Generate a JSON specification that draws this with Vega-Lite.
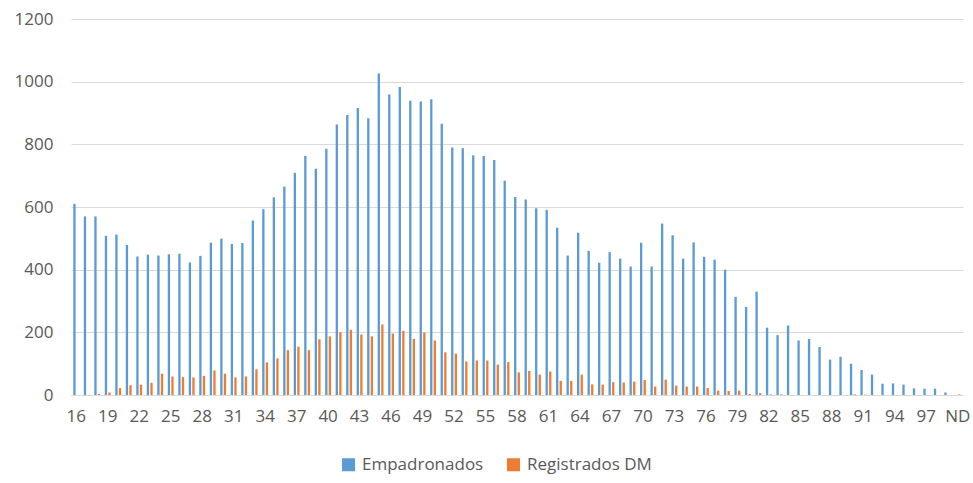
{
  "$schema": "https://vega.github.io/schema/vega-lite/v6.json",
  "width": 892,
  "height": 376,
  "autosize": {"type": "none"},
  "padding": {"left": 71, "top": 19, "right": 10, "bottom": 88},
  "background": "white",
  "config": {
    "view": {"stroke": null},
    "font": "Open Sans",
    "axis": {"labelFont": "Open Sans", "labelColor": "#595959", "labelFontSize": 17, "title": null},
    "legend": {"labelFont": "Open Sans", "labelColor": "#595959", "labelFontSize": 17}
  },
  "data": {
    "values": [
      {"edad": "16", "Empadronados": 610, "Registrados DM": 0},
      {"edad": "17", "Empadronados": 570, "Registrados DM": 0},
      {"edad": "18", "Empadronados": 570, "Registrados DM": 3},
      {"edad": "19", "Empadronados": 508, "Registrados DM": 8},
      {"edad": "20", "Empadronados": 512, "Registrados DM": 22},
      {"edad": "21", "Empadronados": 479, "Registrados DM": 31},
      {"edad": "22", "Empadronados": 442, "Registrados DM": 33},
      {"edad": "23", "Empadronados": 448, "Registrados DM": 39},
      {"edad": "24", "Empadronados": 445, "Registrados DM": 68},
      {"edad": "25", "Empadronados": 449, "Registrados DM": 59},
      {"edad": "26", "Empadronados": 451, "Registrados DM": 57},
      {"edad": "27", "Empadronados": 423, "Registrados DM": 56},
      {"edad": "28", "Empadronados": 444, "Registrados DM": 61},
      {"edad": "29", "Empadronados": 486, "Registrados DM": 78},
      {"edad": "30", "Empadronados": 499, "Registrados DM": 68},
      {"edad": "31", "Empadronados": 482, "Registrados DM": 56},
      {"edad": "32", "Empadronados": 485, "Registrados DM": 59},
      {"edad": "33", "Empadronados": 557, "Registrados DM": 82},
      {"edad": "34", "Empadronados": 593, "Registrados DM": 104},
      {"edad": "35", "Empadronados": 631, "Registrados DM": 117},
      {"edad": "36", "Empadronados": 665, "Registrados DM": 143},
      {"edad": "37", "Empadronados": 709, "Registrados DM": 154},
      {"edad": "38", "Empadronados": 763, "Registrados DM": 143},
      {"edad": "39", "Empadronados": 722, "Registrados DM": 178},
      {"edad": "40", "Empadronados": 786, "Registrados DM": 187},
      {"edad": "41", "Empadronados": 863, "Registrados DM": 200},
      {"edad": "42", "Empadronados": 894, "Registrados DM": 208},
      {"edad": "43", "Empadronados": 916, "Registrados DM": 193},
      {"edad": "44", "Empadronados": 883, "Registrados DM": 187},
      {"edad": "45", "Empadronados": 1026, "Registrados DM": 225},
      {"edad": "46", "Empadronados": 959, "Registrados DM": 196},
      {"edad": "47", "Empadronados": 983, "Registrados DM": 205},
      {"edad": "48", "Empadronados": 939, "Registrados DM": 179},
      {"edad": "49", "Empadronados": 937, "Registrados DM": 199},
      {"edad": "50", "Empadronados": 944, "Registrados DM": 174},
      {"edad": "51", "Empadronados": 866, "Registrados DM": 136},
      {"edad": "52", "Empadronados": 790, "Registrados DM": 132},
      {"edad": "53", "Empadronados": 788, "Registrados DM": 107},
      {"edad": "54", "Empadronados": 765, "Registrados DM": 110},
      {"edad": "55", "Empadronados": 763, "Registrados DM": 110},
      {"edad": "56", "Empadronados": 750, "Registrados DM": 97},
      {"edad": "57", "Empadronados": 684, "Registrados DM": 105},
      {"edad": "58", "Empadronados": 632, "Registrados DM": 72},
      {"edad": "59", "Empadronados": 624, "Registrados DM": 77},
      {"edad": "60", "Empadronados": 596, "Registrados DM": 65},
      {"edad": "61", "Empadronados": 591, "Registrados DM": 75},
      {"edad": "62", "Empadronados": 534, "Registrados DM": 45},
      {"edad": "63", "Empadronados": 445, "Registrados DM": 45},
      {"edad": "64", "Empadronados": 518, "Registrados DM": 65},
      {"edad": "65", "Empadronados": 460, "Registrados DM": 34},
      {"edad": "66", "Empadronados": 422, "Registrados DM": 33},
      {"edad": "67", "Empadronados": 456, "Registrados DM": 41},
      {"edad": "68", "Empadronados": 435, "Registrados DM": 40},
      {"edad": "69", "Empadronados": 410, "Registrados DM": 43},
      {"edad": "70", "Empadronados": 486, "Registrados DM": 48},
      {"edad": "71", "Empadronados": 410, "Registrados DM": 27},
      {"edad": "72", "Empadronados": 547, "Registrados DM": 49},
      {"edad": "73", "Empadronados": 510, "Registrados DM": 30},
      {"edad": "74", "Empadronados": 435, "Registrados DM": 27},
      {"edad": "75", "Empadronados": 487, "Registrados DM": 27},
      {"edad": "76", "Empadronados": 441, "Registrados DM": 22},
      {"edad": "77", "Empadronados": 432, "Registrados DM": 14},
      {"edad": "78", "Empadronados": 400, "Registrados DM": 13},
      {"edad": "79", "Empadronados": 313, "Registrados DM": 14},
      {"edad": "80", "Empadronados": 281, "Registrados DM": 3},
      {"edad": "81", "Empadronados": 330, "Registrados DM": 6},
      {"edad": "82", "Empadronados": 215, "Registrados DM": 2},
      {"edad": "83", "Empadronados": 191, "Registrados DM": 2},
      {"edad": "84", "Empadronados": 222, "Registrados DM": 0},
      {"edad": "85", "Empadronados": 174, "Registrados DM": 0},
      {"edad": "86", "Empadronados": 179, "Registrados DM": 0},
      {"edad": "87", "Empadronados": 153, "Registrados DM": 0},
      {"edad": "88", "Empadronados": 113, "Registrados DM": 0},
      {"edad": "89", "Empadronados": 122, "Registrados DM": 0},
      {"edad": "90", "Empadronados": 100, "Registrados DM": 2},
      {"edad": "91", "Empadronados": 80, "Registrados DM": 1},
      {"edad": "92", "Empadronados": 65, "Registrados DM": 0},
      {"edad": "93", "Empadronados": 36, "Registrados DM": 0},
      {"edad": "94", "Empadronados": 37, "Registrados DM": 0},
      {"edad": "95", "Empadronados": 33, "Registrados DM": 0},
      {"edad": "96", "Empadronados": 21, "Registrados DM": 0},
      {"edad": "97", "Empadronados": 20, "Registrados DM": 0},
      {"edad": "98", "Empadronados": 20, "Registrados DM": 0},
      {"edad": "99", "Empadronados": 8, "Registrados DM": 0},
      {"edad": "ND", "Empadronados": 0, "Registrados DM": 2}
    ]
  },
  "transform": [{"fold": ["Empadronados", "Registrados DM"], "as": ["serie", "valor"]}],
  "mark": {"type": "bar"},
  "encoding": {
    "x": {
      "field": "edad",
      "type": "nominal",
      "sort": null,
      "scale": {"paddingInner": 0.44, "paddingOuter": 0.22},
      "axis": {
        "values": ["16","19","22","25","28","31","34","37","40","43","46","49","52","55","58","61","64","67","70","73","76","79","82","85","88","91","94","97","ND"],
        "labelAngle": 0,
        "ticks": false,
        "tickSize": 0,
        "labelPadding": 13,
        "domainColor": "#D9D9D9",
        "domainWidth": 1,
        "grid": false
      }
    },
    "xOffset": {
      "field": "serie",
      "type": "nominal",
      "sort": ["Empadronados", "Registrados DM"],
      "scale": {"paddingInner": 0.35, "paddingOuter": 0}
    },
    "y": {
      "field": "valor",
      "type": "quantitative",
      "scale": {"domain": [0, 1200], "nice": false},
      "axis": {
        "values": [0, 200, 400, 600, 800, 1000, 1200],
        "format": "d",
        "domain": false,
        "ticks": false,
        "tickSize": 0,
        "labelPadding": 18,
        "gridColor": "#D9D9D9",
        "gridWidth": 1
      }
    },
    "color": {
      "field": "serie",
      "type": "nominal",
      "scale": {"domain": ["Empadronados", "Registrados DM"], "range": ["#5B9BD5", "#ED7D31"]},
      "legend": {
        "title": null,
        "orient": "none",
        "direction": "horizontal",
        "legendX": 269,
        "legendY": 437,
        "symbolType": "square",
        "symbolSize": 169,
        "symbolStrokeWidth": 0,
        "labelOffset": 5,
        "columnPadding": 21
      }
    }
  }
}
